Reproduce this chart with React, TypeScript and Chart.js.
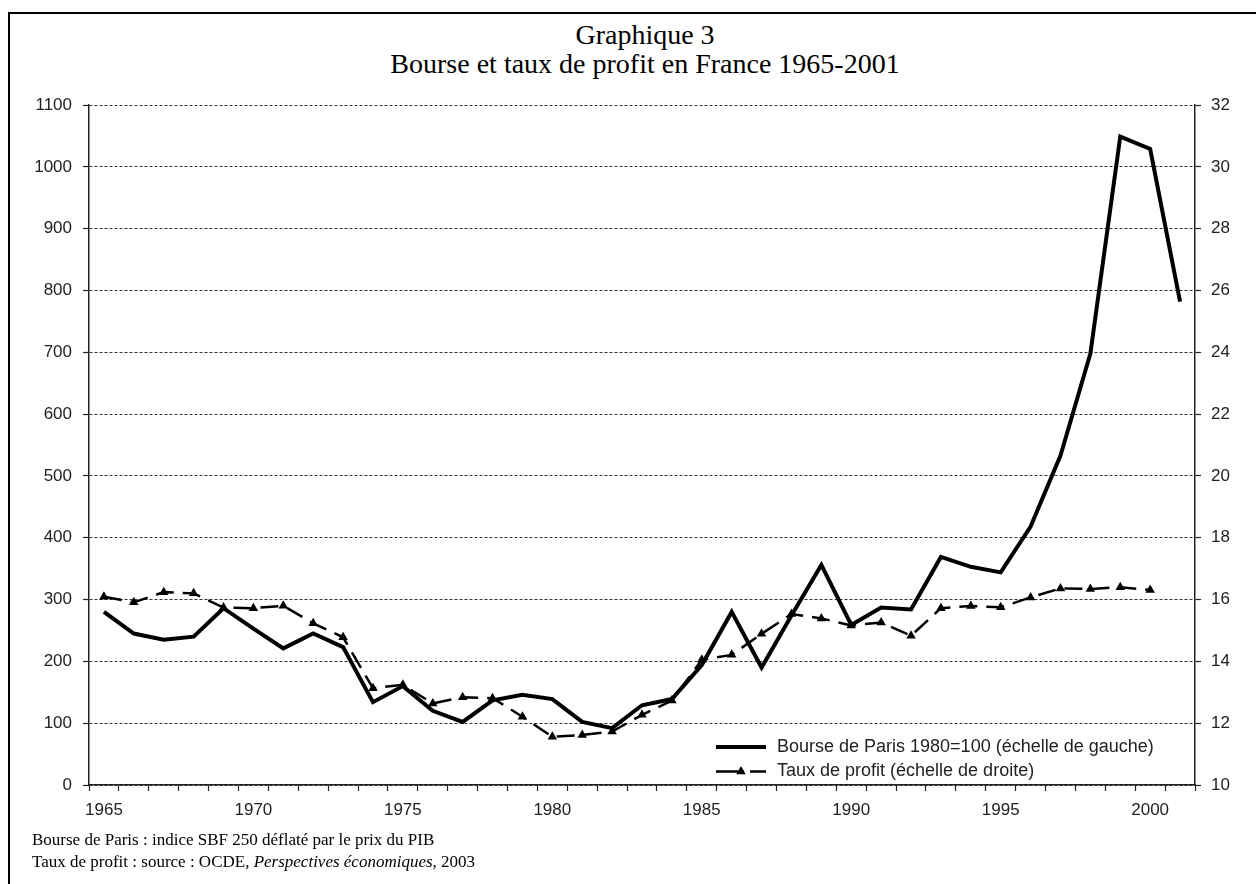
import React, { useEffect, useRef } from "react";
import { Chart, registerables } from "chart.js";

Chart.register(...registerables);

const years: string[] = [
  "1965", "1966", "1967", "1968", "1969", "1970", "1971", "1972", "1973", "1974",
  "1975", "1976", "1977", "1978", "1979", "1980", "1981", "1982", "1983", "1984",
  "1985", "1986", "1987", "1988", "1989", "1990", "1991", "1992", "1993", "1994",
  "1995", "1996", "1997", "1998", "1999", "2000", "2001",
];

const bourseParis: number[] = [
  280, 245, 235, 240, 286, 253, 221, 245, 223, 134,
  160, 120, 102, 137, 146, 139, 102, 92, 129, 139,
  194, 280, 190, 274, 356, 259, 287, 284, 369, 353,
  344, 418, 533, 698, 1049, 1029, 782,
];

const tauxProfit: (number | null)[] = [
  16.09, 15.91, 16.24, 16.2, 15.74, 15.72, 15.8, 15.23, 14.78, 13.13,
  13.24, 12.64, 12.84, 12.81, 12.21, 11.56, 11.62, 11.73, 12.27, 12.73,
  14.05, 14.21, 14.89, 15.53, 15.39, 15.16, 15.26, 14.83, 15.72, 15.79,
  15.75, 16.07, 16.36, 16.34, 16.4, 16.31, null,
];

const labelBourse = "Bourse de Paris 1980=100 (échelle de gauche)";
const labelTaux = "Taux de profit (échelle de droite)";
const titleLines = ["Graphique 3", "Bourse et taux de profit en France 1965-2001"];
const noteLine1 = "Bourse de Paris : indice SBF 250 déflaté par le prix du PIB";

const SANS = "'Liberation Sans', Arial, sans-serif";
const SERIF = "'Liberation Serif', 'Times New Roman', serif";
const TAUX_DASH = [18, 9];

const legendPlugin = {
  id: "insideLegend",
  afterDraw(chart: any) {
    const { ctx, chartArea } = chart;
    const x0 = chartArea.right - 479;
    const y1 = chartArea.bottom - 38;
    const y2 = chartArea.bottom - 13.5;
    ctx.save();
    ctx.strokeStyle = "#000";
    ctx.lineWidth = 4;
    ctx.lineCap = "butt";
    ctx.setLineDash([]);
    ctx.beginPath();
    ctx.moveTo(x0, y1);
    ctx.lineTo(x0 + 50, y1);
    ctx.stroke();
    ctx.lineWidth = 2.5;
    ctx.setLineDash([28, 6]);
    ctx.beginPath();
    ctx.moveTo(x0, y2);
    ctx.lineTo(x0 + 50, y2);
    ctx.stroke();
    ctx.setLineDash([]);
    const r = 5.5;
    const cx = x0 + 25;
    ctx.fillStyle = "#000";
    ctx.beginPath();
    ctx.moveTo(cx, y2 - r);
    ctx.lineTo(cx + r * 0.866, y2 + r * 0.5);
    ctx.lineTo(cx - r * 0.866, y2 + r * 0.5);
    ctx.closePath();
    ctx.fill();
    ctx.font = `18px ${SANS}`;
    ctx.fillStyle = "#222";
    ctx.textAlign = "left";
    ctx.textBaseline = "middle";
    ctx.fillText(labelBourse, x0 + 61, y1);
    ctx.fillText(labelTaux, x0 + 61, y2);
    ctx.restore();
  },
};

function ChartCanvas() {
  const ref = useRef<HTMLCanvasElement | null>(null);
  useEffect(() => {
    if (!ref.current) return;
    const chart = new Chart(ref.current, {
      type: "line",
      data: {
        labels: years,
        datasets: [
          {
            label: labelBourse,
            data: bourseParis,
            yAxisID: "y",
            borderColor: "#000",
            backgroundColor: "#000",
            borderWidth: 4,
            pointRadius: 0,
            tension: 0,
            borderJoinStyle: "miter",
          },
          {
            label: labelTaux,
            data: tauxProfit,
            yAxisID: "y1",
            borderColor: "#000",
            backgroundColor: "#000",
            borderWidth: 2.5,
            borderDash: TAUX_DASH,
            pointStyle: "triangle",
            pointRadius: 5.5,
            pointBorderWidth: 0,
            pointBackgroundColor: "#000",
            tension: 0,
          },
        ],
      },
      options: {
        responsive: false,
        animation: false,
        devicePixelRatio: 1,
        layout: { padding: { left: 0, right: 0, top: 105, bottom: 69 } },
        plugins: {
          legend: { display: false },
          title: { display: false },
          tooltip: { enabled: false },
        },
        scales: {
          x: {
            type: "category",
            offset: true,
            grid: {
              offset: true,
              drawOnChartArea: false,
              drawTicks: true,
              tickLength: 6,
              tickColor: "#222",
              tickWidth: 1.2,
            },
            border: { display: true, color: "#222", width: 1.5 },
            ticks: {
              autoSkip: false,
              maxRotation: 0,
              padding: 9,
              color: "#222",
              font: { family: SANS, size: 17 },
              callback: (_v: any, i: number) => (Number(years[i]) % 5 === 0 ? years[i] : ""),
            },
            afterFit: (s: any) => {
              s.height = 30;
            },
          },
          y: {
            position: "left",
            min: 0,
            max: 1100,
            grid: {
              drawOnChartArea: true,
              drawTicks: true,
              tickLength: 6,
              color: "#333",
              lineWidth: 1,
              tickColor: "#222",
              tickWidth: 1.2,
            },
            border: { display: true, color: "#222", width: 1.5, dash: [3, 2] },
            ticks: {
              stepSize: 100,
              padding: 11,
              color: "#222",
              font: { family: SANS, size: 17 },
              callback: (v: any) => String(v),
            },
            afterFit: (s: any) => {
              s.width = 89;
            },
          },
          y1: {
            position: "right",
            min: 10,
            max: 32,
            grid: {
              drawOnChartArea: false,
              drawTicks: true,
              tickLength: 6,
              tickColor: "#222",
              tickWidth: 1.2,
            },
            border: { display: true, color: "#222", width: 1.5 },
            ticks: {
              stepSize: 2,
              padding: 10,
              color: "#222",
              font: { family: SANS, size: 17 },
              callback: (v: any) => String(v),
            },
            afterFit: (s: any) => {
              s.width = 61;
            },
          },
        },
      },
      plugins: [legendPlugin],
    } as any);
    return () => chart.destroy();
  }, []);
  return (
    <canvas
      ref={ref}
      width={1256}
      height={884}
      style={{ position: "absolute", left: 0, top: 0, width: 1256, height: 884 }}
    />
  );
}

export default function App() {
  return (
    <div
      style={{
        position: "fixed",
        left: 0,
        top: 0,
        width: 1256,
        height: 884,
        overflow: "hidden",
        background: "#fff",
      }}
    >
      <div
        style={{
          position: "absolute",
          left: 8,
          top: 12,
          width: 1400,
          height: 1000,
          borderLeft: "2px solid #000",
          borderTop: "2px solid #000",
        }}
      />
      <div
        style={{
          position: "absolute",
          left: 0,
          top: 20,
          width: 1290,
          textAlign: "center",
          fontFamily: SERIF,
          fontSize: 28,
          lineHeight: "29px",
          color: "#000",
        }}
      >
        <div>{titleLines[0]}</div>
        <div>{titleLines[1]}</div>
      </div>
      <ChartCanvas />
      <div
        style={{
          position: "absolute",
          left: 32,
          top: 829,
          fontFamily: SERIF,
          fontSize: 17,
          lineHeight: "22px",
          color: "#000",
          whiteSpace: "nowrap",
        }}
      >
        <div>{noteLine1}</div>
        <div>
          Taux de profit : source : OCDE, <i>Perspectives économiques</i>, 2003
        </div>
      </div>
    </div>
  );
}
